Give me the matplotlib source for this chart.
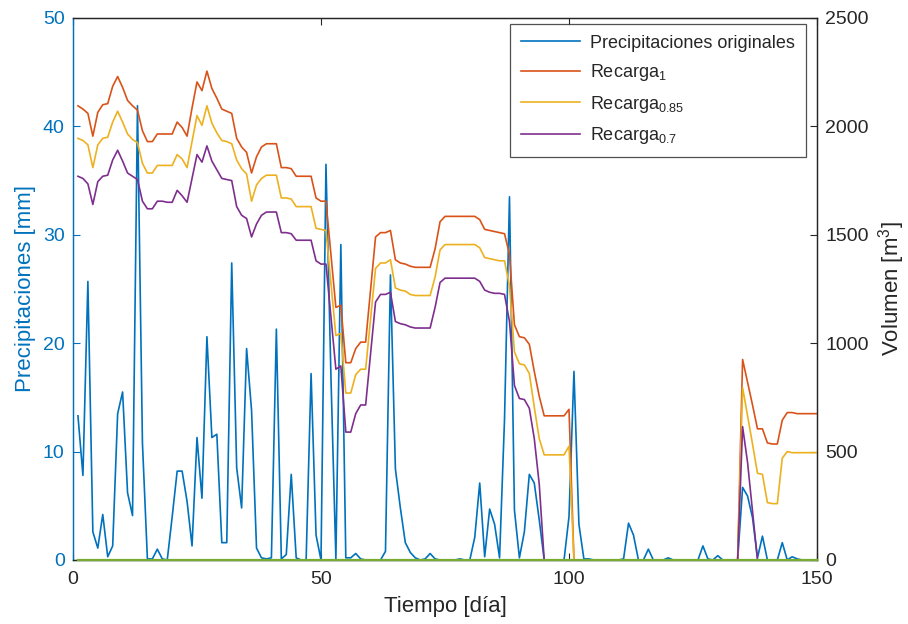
import matplotlib

matplotlib.use("Agg")
import matplotlib.pyplot as plt
import numpy as np

plt.rcParams["font.family"] = ["Liberation Sans", "DejaVu Sans"]
plt.rcParams["mathtext.fontset"] = "custom"
plt.rcParams["mathtext.rm"] = "Liberation Sans"
plt.rcParams["mathtext.default"] = "regular"

BLUE = "#0072BD"
ORANGE = "#D95319"
YELLOW = "#EDB120"
PURPLE = "#7E2F8E"
GREEN = "#77AC30"
DARK = "#262626"

dias = np.arange(1, 151)

# precipitación diaria [mm]
precip = [
    13.3, 7.8, 25.7, 2.6, 1.1, 4.2, 0.3, 1.3, 13.5, 15.5,
    6.2, 4.1, 41.9, 10.8, 0.1, 0.1, 1.0, 0.1, 0.0, 4.0,
    8.2, 8.2, 5.4, 1.3, 11.3, 5.7, 20.6, 11.3, 11.6, 1.6,
    1.6, 27.4, 8.5, 4.8, 19.5, 13.8, 1.1, 0.2, 0.1, 0.2,
    21.3, 0.1, 0.5, 7.9, 0.2, 0.0, 0.0, 17.2, 2.3, 0.0,
    36.5, 17.0, 0.1, 29.1, 0.2, 0.2, 0.6, 0.1, 0.0, 0.0,
    0.0, 0.0, 0.8, 26.3, 8.4, 4.8, 1.6, 0.7, 0.2, 0.0,
    0.1, 0.6, 0.1, 0.0, 0.0, 0.0, 0.0, 0.1, 0.0, 0.0,
    2.1, 7.1, 0.3, 4.7, 3.3, 0.2, 13.0, 33.5, 4.6, 0.2,
    2.6, 7.9, 7.1, 3.7, 0.0, 0.0, 0.0, 0.0, 0.0, 4.0,
    17.4, 3.3, 0.1, 0.1, 0.0, 0.0, 0.0, 0.0, 0.0, 0.0,
    0.1, 3.4, 2.3, 0.0, 0.0, 1.0, 0.0, 0.0, 0.0, 0.2,
    0.0, 0.0, 0.0, 0.0, 0.0, 0.0, 1.3, 0.1, 0.0, 0.4,
    0.0, 0.0, 0.0, 0.0, 6.7, 5.9, 3.9, 0.2, 2.2, 0.0,
    0.0, 0.0, 1.6, 0.0, 0.3, 0.1, 0.0, 0.0, 0.0, 0.0,
]

# volumen de recarga [m3] para cada coeficiente
recarga_1 = [
    2095, 2080, 2060, 1955, 2065, 2100, 2105, 2185, 2230, 2180,
    2120, 2095, 2075, 1980, 1930, 1930, 1965, 1965, 1965, 1965,
    2020, 1995, 1955, 2085, 2205, 2165, 2255, 2175, 2130, 2080,
    2070, 2060, 1945, 1905, 1880, 1785, 1860, 1905, 1920, 1920,
    1920, 1810, 1810, 1805, 1770, 1770, 1770, 1770, 1670, 1655,
    1655, 1410, 1165, 1175, 910, 910, 975, 1005, 1005, 1250,
    1490, 1510, 1510, 1520, 1385, 1370, 1365, 1355, 1350, 1350,
    1350, 1350, 1435, 1560, 1585, 1585, 1585, 1585, 1585, 1585,
    1585, 1570, 1525, 1520, 1515, 1510, 1505, 1410, 1085, 1030,
    1025, 995, 870, 755, 665, 665, 665, 665, 665, 695,
    0, 0, 0, 0, 0, 0, 0, 0, 0, 0,
    0, 0, 0, 0, 0, 0, 0, 0, 0, 0,
    0, 0, 0, 0, 0, 0, 0, 0, 0, 0,
    0, 0, 0, 0, 925, 820, 715, 605, 605, 540,
    535, 535, 645, 680, 680, 675, 675, 675, 675, 675,
]

recarga_085 = [
    1945, 1935, 1915, 1810, 1915, 1945, 1950, 2020, 2070, 2020,
    1965, 1940, 1925, 1830, 1785, 1785, 1820, 1820, 1820, 1820,
    1870, 1850, 1810, 1930, 2050, 2005, 2095, 2015, 1970, 1935,
    1930, 1920, 1845, 1805, 1780, 1655, 1730, 1760, 1775, 1775,
    1775, 1670, 1670, 1665, 1630, 1630, 1630, 1630, 1530, 1525,
    1520, 1280, 1035, 1045, 770, 770, 855, 880, 880, 1115,
    1345, 1370, 1370, 1385, 1255, 1245, 1240, 1225, 1220, 1220,
    1220, 1220, 1305, 1430, 1455, 1455, 1455, 1455, 1455, 1455,
    1455, 1440, 1395, 1390, 1385, 1380, 1380, 1265, 960, 905,
    900, 860, 705, 560, 485, 485, 485, 485, 485, 525,
    0, 0, 0, 0, 0, 0, 0, 0, 0, 0,
    0, 0, 0, 0, 0, 0, 0, 0, 0, 0,
    0, 0, 0, 0, 0, 0, 0, 0, 0, 0,
    0, 0, 0, 0, 795, 665, 535, 400, 395, 265,
    260, 260, 470, 500, 495, 495, 495, 495, 495, 495,
]

recarga_07 = [
    1770, 1760, 1735, 1640, 1745, 1770, 1775, 1845, 1890, 1840,
    1785, 1770, 1755, 1655, 1620, 1620, 1655, 1655, 1650, 1650,
    1705, 1680, 1650, 1760, 1870, 1835, 1910, 1840, 1800, 1760,
    1755, 1750, 1630, 1590, 1575, 1490, 1550, 1590, 1605, 1605,
    1605, 1510, 1510, 1505, 1475, 1475, 1475, 1475, 1380, 1365,
    1365, 1125, 880, 895, 590, 590, 675, 715, 715, 950,
    1190, 1225, 1225, 1235, 1100, 1090, 1085, 1075, 1070, 1070,
    1070, 1070, 1165, 1280, 1300, 1300, 1300, 1300, 1300, 1300,
    1300, 1285, 1245, 1235, 1230, 1230, 1225, 1100, 805, 745,
    740, 700, 560, 350, 0, 0, 0, 0, 0, 0,
    0, 0, 0, 0, 0, 0, 0, 0, 0, 0,
    0, 0, 0, 0, 0, 0, 0, 0, 0, 0,
    0, 0, 0, 0, 0, 0, 0, 0, 0, 0,
    0, 0, 0, 0, 615, 450, 225, 0, 0, 0,
    0, 0, 0, 0, 0, 0, 0, 0, 0, 0,
]

# linea base sin recarga
recarga_0 = [0] * len(dias)

etiquetas = [
    "Precipitaciones originales",
    "Recarga$_{1}$",
    "Recarga$_{0.85}$",
    "Recarga$_{0.7}$",
]

fig = plt.figure(figsize=(9.08, 6.24), dpi=100)
ax = fig.add_axes([73 / 908, 64 / 624, 744 / 908, 542 / 624])
ax2 = ax.twinx()

lw = 1.2
l0, = ax.plot(dias, precip, color=BLUE, lw=lw)
l1, = ax2.plot(dias, recarga_1, color=ORANGE, lw=lw)
l2, = ax2.plot(dias, recarga_085, color=YELLOW, lw=lw)
l3, = ax2.plot(dias, recarga_07, color=PURPLE, lw=lw)
ax2.plot(dias, recarga_0, color=GREEN, lw=1.6, clip_on=False, zorder=5)

ax.set_xlim(0, 150)
ax.set_ylim(0, 50)
ax2.set_ylim(0, 2500)
ax.set_xticks([0, 50, 100, 150])
ax.set_yticks(range(0, 51, 10))
ax2.set_yticks(range(0, 2501, 500))

ax.tick_params(axis="x", direction="in", length=5, top=True, colors=DARK,
               labelsize=14, pad=8)
ax.tick_params(axis="y", direction="in", length=5, colors=BLUE, labelsize=14, pad=6)
ax2.tick_params(axis="y", direction="in", length=5, colors=DARK, labelsize=14, pad=6)

for a in (ax, ax2):
    for side in ("top", "bottom", "right"):
        a.spines[side].set_color(DARK)
    a.spines["left"].set_color(BLUE)
    for sp in a.spines.values():
        sp.set_linewidth(0.9)

ax.set_xlabel("Tiempo [día]", fontsize=16, color=DARK, labelpad=6)
ax.set_ylabel("Precipitaciones [mm]", fontsize=16, color=BLUE, labelpad=5)
ax2.set_ylabel("Volumen [m$^3$]", fontsize=16, color=DARK, labelpad=5)

leg = ax2.legend(
    [l0, l1, l2, l3], etiquetas,
    loc="upper right", bbox_to_anchor=(0.985, 0.989),
    fontsize=13, frameon=True, fancybox=False,
    handlelength=3.3, handletextpad=0.55, labelspacing=0.58,
    borderpad=0.6, borderaxespad=0,
)
leg.get_frame().set_edgecolor(DARK)
leg.get_frame().set_linewidth(0.9)
for t in leg.get_texts():
    t.set_color(DARK)

fig.savefig("out.png", dpi=100)
